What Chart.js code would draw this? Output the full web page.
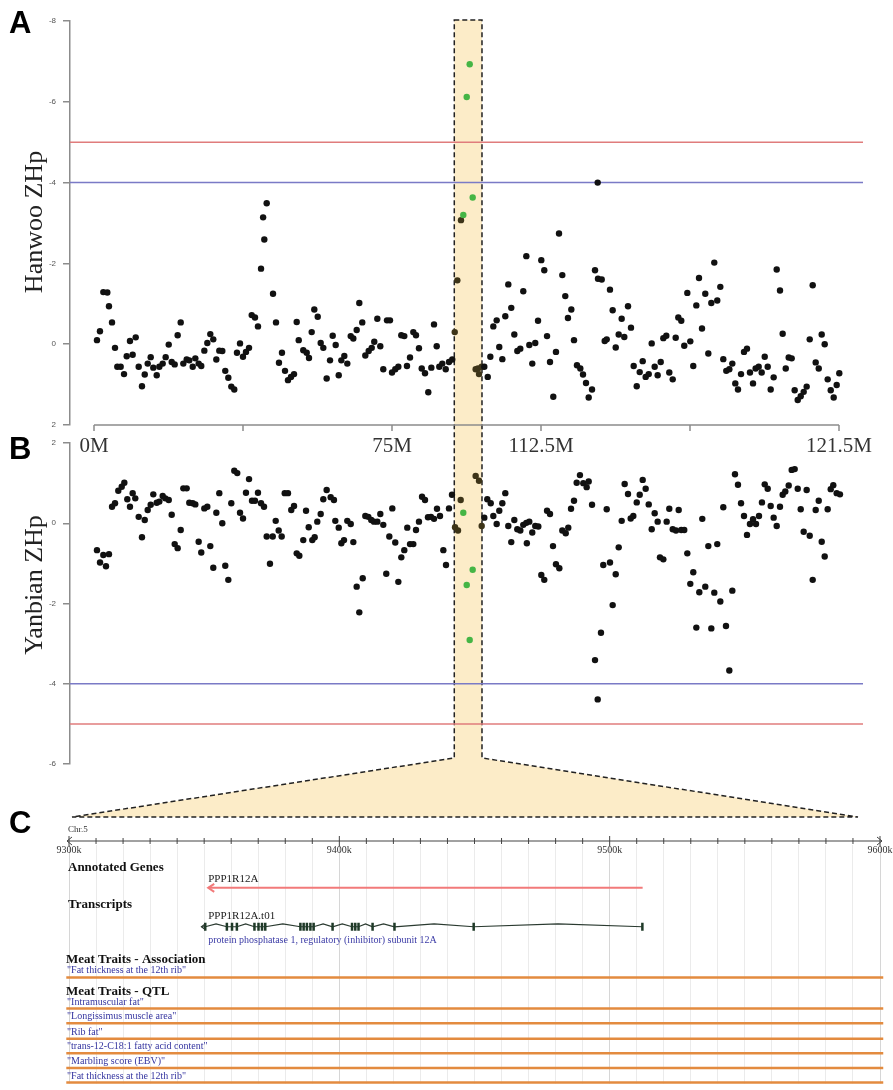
<!DOCTYPE html>
<html>
<head>
<meta charset="utf-8">
<script src="https://cdn.jsdelivr.net/npm/chart.js@4.4.1/dist/chart.umd.min.js"></script>
<style>
  html, body { margin: 0; padding: 0; background: #fff; }
  #wrap { position: relative; width: 893px; height: 1090px; overflow: hidden; }
  #wrap canvas { position: absolute; left: 0; top: 0; }
</style>
</head>
<body>
<div id="wrap">
  <canvas id="chartA" width="893" height="1090"></canvas>
  <canvas id="chartB" width="893" height="1090"></canvas>
  <canvas id="chartC" width="893" height="1090"></canvas>
</div>
<script>
// 1) Data

// genome axis: position as % of the axis length, tick labels as printed
const genomeTicks = [0, 20, 40, 60, 80, 100];
const genomeTickLabels = ["0M", "", "75M", "112.5M", "", "121.5M"];
const windowRange = [48.36, 52.08];   // highlighted region (shaded band)
const thresholds = [-4, -5];

// [position, ZHp]
const hanwooPoints = [
  [0.4,-0.1],[0.8,-0.32],[1.25,-1.29],[1.79,-1.28],[2.01,-0.94],[2.42,-0.54],[2.82,0.09],[3.13,0.56],[3.58,0.56],[4.03,0.74],
  [4.39,0.3],[4.83,-0.08],[5.19,0.26],[5.6,-0.17],[6.0,0.56],[6.44,1.04],[6.81,0.75],[7.21,0.48],[7.61,0.32],[7.96,0.58],
  [8.42,0.77],[8.77,0.56],[9.22,0.48],[9.62,0.32],[10.03,0.01],[10.43,0.44],[10.83,0.5],[11.23,-0.22],[11.64,-0.54],[11.99,0.48],
  [12.44,0.38],[12.79,0.4],[13.25,0.56],[13.6,0.35],[14.05,0.48],[14.4,0.54],[14.81,0.16],[15.21,-0.03],[15.61,-0.25],[16.01,-0.12],
  [16.42,0.38],[16.82,0.16],[17.22,0.17],[17.62,0.66],[18.03,0.83],[18.43,1.05],[18.83,1.12],[19.19,0.21],[19.6,-0.02],[20.0,0.31],
  [20.4,0.19],[20.81,0.09],[21.17,-0.72],[21.61,-0.66],[22.01,-0.44],[22.42,-1.87],[22.86,-2.59],[22.7,-3.14],[23.18,-3.49],[24.03,-1.25],
  [24.43,-0.54],[24.83,0.46],[25.23,0.21],[25.64,0.66],[26.04,0.89],[26.44,0.81],[26.85,0.74],[27.21,-0.55],[27.48,-0.1],[28.09,0.15],
  [28.55,0.21],[28.86,0.34],[29.22,-0.3],[29.57,-0.86],[30.03,-0.68],[30.43,-0.03],[30.78,0.09],[31.23,0.85],[31.68,0.4],[32.04,-0.21],
  [32.44,0.02],[32.85,0.77],[33.2,0.4],[33.6,0.29],[34.0,0.48],[34.46,-0.2],[34.81,-0.14],[35.26,-0.35],[35.61,-1.02],[36.01,-0.54],
  [36.42,0.28],[36.87,0.17],[37.28,0.09],[37.62,-0.06],[38.03,-0.63],[38.43,0.05],[38.83,0.62],[39.33,-0.59],[39.73,-0.59],[40.0,0.7],
  [40.44,0.62],[40.85,0.56],[41.25,-0.22],[41.65,-0.2],[42.01,0.54],[42.42,0.33],[42.86,-0.3],[43.22,-0.22],[43.62,0.1],[43.99,0.6],
  [44.43,0.72],[44.87,1.19],[45.28,0.58],[45.64,-0.49],[46.0,0.05],[46.35,0.56],[46.75,0.48],[47.21,0.62],[47.65,0.44],[48.09,0.38],
  [48.42,-0.3],[48.77,-1.58],[49.26,-3.07],[51.23,0.62],[51.68,0.74],[51.54,0.6],[52.04,0.56],[52.39,0.56],[52.85,0.81],[53.2,0.31],
  [53.6,-0.44],[54.05,-0.59],[54.4,0.07],[54.81,0.37],[55.21,-0.69],[55.61,-1.48],[56.01,-0.9],[56.42,-0.24],[56.82,0.17],[57.22,0.11],
  [57.62,-1.31],[58.03,-2.18],[58.43,0.02],[58.83,0.48],[59.23,-0.03],[59.6,-0.58],[60.04,-2.08],[60.44,-1.83],[60.81,-0.2],[61.21,0.44],
  [61.65,1.3],[62.01,0.19],[62.42,-2.74],[62.86,-1.71],[63.26,-1.19],[63.62,-0.65],[64.07,-0.86],[64.43,-0.1],[64.83,0.52],[65.28,0.6],
  [65.64,0.75],[66.04,0.96],[66.4,1.32],[66.85,1.12],[67.25,-1.83],[67.65,-1.62],[67.61,-4.0],[68.15,-1.6],[68.55,-0.08],[68.82,-0.12],
  [69.26,-1.35],[69.62,-0.84],[70.03,0.08],[70.43,-0.24],[70.83,-0.63],[71.18,-0.18],[71.68,-0.94],[72.08,-0.41],[72.44,0.54],[72.85,1.04],
  [73.25,0.69],[73.65,0.42],[74.05,0.81],[74.46,0.74],[74.86,-0.02],[75.26,0.56],[75.66,0.77],[76.07,0.44],[76.42,-0.15],[76.82,-0.21],
  [77.22,0.7],[77.68,0.87],[78.08,-0.16],[78.43,-0.66],[78.83,-0.58],[79.23,0.04],[79.64,-1.27],[80.04,-0.07],[80.44,0.54],[80.85,-0.96],
  [81.21,-1.64],[81.61,-0.39],[82.05,-1.25],[82.46,0.23],[82.86,-1.02],[83.26,-2.02],[83.66,-1.08],[84.07,-1.42],[84.47,0.37],[84.87,0.66],
  [85.28,0.62],[85.68,0.48],[86.08,0.97],[86.44,1.12],[86.85,0.74],[87.25,0.19],[87.65,0.11],[88.05,0.7],[88.46,0.97],[88.81,0.6],
  [89.22,0.56],[89.62,0.7],[90.03,0.31],[90.43,0.56],[90.83,1.12],[91.23,0.82],[91.64,-1.85],[92.08,-1.33],[92.44,-0.26],[92.85,0.6],
  [93.25,0.33],[93.65,0.35],[94.05,1.14],[94.46,1.38],[94.86,1.29],[95.26,1.18],[95.66,1.05],[96.07,-0.12],[96.47,-1.46],[96.87,0.45],
  [97.28,0.6],[97.68,-0.24],[98.08,0.0],[98.48,0.87],[98.89,1.14],[99.29,1.32],[99.69,1.01],[100.04,0.72]
];
const hanwooHits = [[49.57,-3.2],[50.03,-6.12],[50.43,-6.93],[50.83,-3.63]];

const yanbianPoints = [
  [0.4,-0.67],[0.81,-0.98],[1.25,-0.79],[1.61,-1.07],[2.01,-0.77],[2.42,0.41],[2.82,0.5],[3.26,0.81],[3.72,0.91],[4.07,1.01],
  [4.47,0.6],[4.83,0.41],[5.19,0.75],[5.54,0.62],[6.0,0.16],[6.44,-0.35],[6.81,0.08],[7.21,0.33],[7.61,0.46],[7.96,0.72],
  [8.42,0.51],[8.77,0.54],[9.22,0.68],[9.57,0.62],[10.03,0.58],[10.43,0.21],[10.83,-0.52],[11.23,-0.62],[11.64,-0.17],[11.99,0.87],
  [12.44,0.87],[12.79,0.51],[13.25,0.5],[13.6,0.47],[14.05,-0.46],[14.4,-0.73],[14.81,0.37],[15.21,0.41],[15.61,-0.57],[16.01,-1.11],
  [16.42,0.26],[16.82,0.75],[17.22,0.0],[17.62,-1.06],[18.03,-1.41],[18.43,0.5],[18.83,1.31],[19.23,1.25],[19.6,0.26],[20.0,0.12],
  [20.4,0.76],[20.81,1.1],[21.21,0.56],[21.61,0.56],[22.01,0.76],[22.42,0.5],[22.82,0.41],[23.18,-0.33],[23.62,-1.01],[23.99,-0.33],
  [24.39,0.06],[24.79,-0.18],[25.19,-0.33],[25.6,0.75],[26.04,0.75],[26.48,0.33],[26.85,0.43],[27.21,-0.75],[27.56,-0.81],[28.09,-0.42],
  [28.46,0.31],[28.82,-0.1],[29.3,-0.42],[29.62,-0.35],[29.97,0.04],[30.43,0.23],[30.78,0.6],[31.23,0.83],[31.77,0.65],[32.21,0.58],
  [32.39,0.06],[32.85,-0.11],[33.2,-0.5],[33.56,-0.42],[34.0,0.06],[34.46,-0.02],[34.81,-0.47],[35.26,-1.58],[35.61,-2.22],[36.07,-1.37],
  [36.42,0.18],[36.82,0.16],[37.22,0.08],[37.58,0.04],[38.03,0.04],[38.43,0.23],[38.83,-0.04],[39.23,-1.26],[39.64,-0.33],[40.04,0.37],
  [40.44,-0.48],[40.85,-1.46],[41.25,-0.85],[41.65,-0.67],[42.05,-0.11],[42.42,-0.52],[42.86,-0.52],[43.22,-0.17],[43.62,0.04],[44.03,0.66],
  [44.43,0.58],[44.83,0.15],[45.23,0.16],[45.64,0.11],[46.04,0.36],[46.44,0.18],[46.89,-0.67],[47.25,-1.04],[47.65,0.37],[48.05,0.71],
  [48.46,-0.1],[48.86,-0.18],[49.22,0.58],[51.23,1.18],[51.68,1.06],[52.04,-0.07],[52.39,0.14],[52.79,0.6],[53.25,0.5],[53.6,0.18],
  [54.05,-0.02],[54.4,0.31],[54.81,0.5],[55.21,0.75],[55.61,-0.07],[56.01,-0.47],[56.42,0.08],[56.82,-0.15],[57.22,-0.18],[57.62,-0.04],
  [58.03,0.01],[58.1,-0.5],[58.43,0.04],[58.83,-0.23],[59.23,-0.07],[59.64,-0.08],[60.04,-1.29],[60.44,-1.41],[60.81,0.31],[61.21,0.23],
  [61.61,-0.57],[62.01,-1.02],[62.46,-1.12],[62.86,-0.18],[63.32,-0.25],[63.66,-0.11],[64.03,0.36],[64.43,0.56],[64.79,1.01],[65.23,1.2],
  [65.68,1.0],[66.13,0.9],[66.4,1.04],[66.85,0.46],[67.25,-3.41],[67.61,-4.39],[68.05,-2.73],[68.36,-1.04],[68.82,0.35],[69.26,-0.98],
  [69.62,-2.04],[70.03,-1.27],[70.43,-0.6],[70.83,0.06],[71.23,0.98],[71.68,0.73],[72.04,0.12],[72.39,0.18],[72.85,0.52],[73.25,0.71],
  [73.65,1.08],[74.05,0.86],[74.46,0.47],[74.86,-0.15],[75.26,0.25],[75.66,0.04],[75.97,-0.85],[76.42,-0.9],[76.87,0.04],[77.22,0.36],
  [77.68,-0.15],[78.12,-0.18],[78.48,0.33],[78.83,-0.17],[79.23,-0.17],[79.64,-0.75],[80.04,-1.51],[80.44,-1.22],[80.85,-2.6],[81.25,-1.72],
  [81.65,0.11],[82.05,-1.58],[82.46,-0.57],[82.86,-2.62],[83.26,-1.73],[83.66,-0.52],[84.07,-1.95],[84.47,0.4],[84.83,-2.56],[85.28,-3.67],
  [85.68,-1.68],[86.04,1.22],[86.44,0.96],[86.85,0.5],[87.25,0.18],[87.65,-0.29],[88.05,-0.02],[88.46,0.1],[88.86,-0.02],[89.26,0.18],
  [89.66,0.52],[90.03,0.97],[90.43,0.86],[90.83,0.43],[91.23,0.14],[91.64,-0.07],[92.08,0.41],[92.44,0.71],[92.79,0.79],[93.25,0.94],
  [93.65,1.33],[94.05,1.35],[94.46,0.86],[94.86,0.35],[95.26,-0.21],[95.66,0.83],[96.07,-0.31],[96.47,-1.41],[96.87,0.33],[97.28,0.56],
  [97.68,-0.46],[98.08,-0.83],[98.48,0.35],[98.89,0.85],[99.23,0.95],[99.69,0.75],[100.13,0.72]
];
const yanbianHits = [[49.57,0.26],[50.03,-1.54],[50.43,-2.91],[50.83,-1.16]];

// panel C: genome browser, positions in kb
const regionKb = [9300, 9600];
const regionLabelsKb = [9300, 9400, 9500, 9600];
const chromosome = "Chr.5";
const geneName = "PPP1R12A";
const geneSpanKb = [9351.5, 9512.2];
const transcriptName = "PPP1R12A.t01";
const transcriptDesc = "protein phosphatase 1, regulatory (inhibitor) subunit 12A";
const transcriptStartKb = 9349;
const exonKb = [9350.4, 9358.4, 9360.3, 9362.1, 9368.6, 9370.1, 9371.4, 9372.6, 9385.6, 9386.8, 9388.0,
                9389.3, 9390.5, 9397.5, 9404.7, 9405.9, 9407.1, 9412.3, 9420.4, 9449.7, 9512.1];
const associationTraits = ['"Fat thickness at the 12th rib"'];
const qtlTraits = ['"Intramuscular fat"', '"Longissimus muscle area"', '"Rib fat"',
                   '"trans-12-C18:1 fatty acid content"', '"Marbling score (EBV)"', '"Fat thickness at the 12th rib"'];
const traitSpanKb = [9299, 9601.2];


// 2) Layout / style

const SANS = '"Liberation Sans", Arial, sans-serif';
const SERIF = '"Liberation Serif", "Times New Roman", serif';
const AXIS_GREY = "#8c8c8c";
const DOT = "#111111";
const DOT_IN_BAND = "#3d3418";
const HIT_GREEN = "#45b545";
const BAND_FILL = "#fcecc8";
const thresholdColors = { "-4": "#7a7ac6", "-5": "#e07c7c" };

// genome axis 0..100 runs from x=94 to x=839, chart area 70..863
const xMin = -24 / 7.45;
const xMax = 100 + 24 / 7.45;

// track rows in panel C (pixels below the top of the track area)
const trackY = { gene: 44, transcript: 84, association: [136], qtl: [168, 183, 199, 214, 229, 244] };

const toXY = (pairs) => pairs.map(([x, y]) => ({ x, y }));
const inBand = (c) => c.raw && c.raw.x >= windowRange[0] && c.raw.x <= windowRange[1];


// 3) Plugins

const bandPlugin = {
  id: "band",
  beforeDatasetsDraw(chart) {
    const { ctx, chartArea } = chart;
    const xs = chart.scales.x;
    const l = xs.getPixelForValue(windowRange[0]);
    const r = xs.getPixelForValue(windowRange[1]);
    const top = chartArea.top - 1;
    const neck = 758, foot = 817;
    const fl = chartArea.left + 2, fr = chartArea.right - 5;
    ctx.save();
    ctx.beginPath();
    ctx.moveTo(l, top);
    ctx.lineTo(r, top);
    ctx.lineTo(r, neck);
    ctx.lineTo(fr, foot);
    ctx.lineTo(fl, foot);
    ctx.lineTo(l, neck);
    ctx.closePath();
    ctx.fillStyle = BAND_FILL;
    ctx.fill();
    ctx.setLineDash([5, 3]);
    ctx.lineWidth = 1.5;
    ctx.strokeStyle = "#222";
    ctx.stroke();
    ctx.restore();
  }
};

const genomeAxisPlugin = {
  id: "genomeAxis",
  afterDraw(chart) {
    const { ctx, chartArea } = chart;
    const xs = chart.scales.x;
    const y = chartArea.bottom;
    ctx.save();
    ctx.strokeStyle = AXIS_GREY;
    ctx.lineWidth = 1.5;
    ctx.beginPath();
    ctx.moveTo(xs.getPixelForValue(genomeTicks[0]), y);
    ctx.lineTo(xs.getPixelForValue(genomeTicks[genomeTicks.length - 1]), y);
    genomeTicks.forEach((t) => {
      const x = xs.getPixelForValue(t);
      ctx.moveTo(x, y);
      ctx.lineTo(x, y + 6);
    });
    ctx.stroke();
    ctx.fillStyle = "#333";
    ctx.font = "21px " + SERIF;
    ctx.textAlign = "center";
    genomeTicks.forEach((t, i) => {
      ctx.fillText(genomeTickLabels[i], xs.getPixelForValue(t), y + 27);
    });
    ctx.restore();
  }
};

const panelTextPlugin = {
  id: "panelText",
  afterDraw(chart, args, opts) {
    const { ctx } = chart;
    ctx.save();
    ctx.fillStyle = "#000";
    ctx.font = "bold 31px " + SANS;
    ctx.textAlign = "left";
    ctx.fillText(opts.letter, 9, opts.letterY);
    if (opts.title) {
      ctx.translate(42, opts.titleY);
      ctx.rotate(-Math.PI / 2);
      ctx.font = "26px " + SERIF;
      ctx.textAlign = "center";
      ctx.fillStyle = "#222";
      ctx.fillText(opts.title, 0, 0);
    }
    ctx.restore();
  }
};


// 4) Panels A and B

function yAxis(min, max, reverse) {
  return {
    type: "linear",
    min: min,
    max: max,
    reverse: reverse,
    afterFit: (s) => { s.width = 40; },
    ticks: { stepSize: 2, color: "#555", padding: 7, font: { family: SANS, size: 8 } },
    grid: { drawOnChartArea: false, tickLength: 7, color: AXIS_GREY, lineWidth: 1.5 },
    border: { color: AXIS_GREY, width: 1.5 }
  };
}

function scatterPanel(canvasId, points, hits, yMin, yMax, reverse, top, bottom, letter, letterY, title, titleY, extraPlugins) {
  const datasets = [
    {
      data: toXY(hits),
      pointBackgroundColor: HIT_GREEN,
      pointBorderWidth: 0,
      pointRadius: 3.2,
      order: 0
    },
    {
      data: toXY(points),
      pointBackgroundColor: (c) => (inBand(c) ? DOT_IN_BAND : DOT),
      pointBorderWidth: 0,
      pointRadius: 3.2,
      order: 1
    }
  ];
  thresholds.forEach((t) => {
    datasets.push({
      data: [{ x: xMin, y: t }, { x: xMax, y: t }],
      showLine: true,
      borderColor: thresholdColors[String(t)],
      borderWidth: 1.5,
      pointRadius: 0,
      order: 2
    });
  });

  return new Chart(document.getElementById(canvasId), {
    type: "scatter",
    data: { datasets: datasets },
    options: {
      responsive: false,
      devicePixelRatio: 1,
      animation: false,
      events: [],
      layout: { padding: { left: 30, right: 30, top: top, bottom: 1090 - bottom } },
      plugins: {
        legend: { display: false },
        tooltip: { enabled: false },
        panelText: { letter: letter, letterY: letterY, title: title, titleY: titleY }
      },
      scales: {
        x: { type: "linear", display: false, min: xMin, max: xMax },
        y: yAxis(yMin, yMax, reverse)
      }
    },
    plugins: [panelTextPlugin].concat(extraPlugins)
  });
}

scatterPanel("chartA", hanwooPoints, hanwooHits, -8, 2, true, 21, 425,
  "A", 33, "Hanwoo ZHp", 222, [bandPlugin, genomeAxisPlugin]);

scatterPanel("chartB", yanbianPoints, yanbianHits, -6, 2, false, 443, 764,
  "B", 459, "Yanbian ZHp", 585, []);


// 5) Panel C: genome browser tracks

const gridKb = [];
for (let k = regionKb[0]; k <= regionKb[1]; k += 10) gridKb.push(k);

const transcriptPts = [{ x: transcriptStartKb, y: trackY.transcript, exon: false }];
exonKb.forEach((k, i) => {
  if (i > 0 && k - exonKb[i - 1] > 3) {
    transcriptPts.push({ x: (k + exonKb[i - 1]) / 2, y: trackY.transcript - 3, exon: false });
  }
  transcriptPts.push({ x: k, y: trackY.transcript, exon: true });
});

const traitRows = associationTraits.map((t, i) => trackY.association[i])
  .concat(qtlTraits.map((t, i) => trackY.qtl[i]));

const trackDatasets = [
  {
    data: [{ x: geneSpanKb[0], y: trackY.gene }, { x: geneSpanKb[1], y: trackY.gene }],
    showLine: true, borderColor: "#f27a7a", borderWidth: 2, pointRadius: 0
  },
  {
    data: transcriptPts,
    showLine: true, borderColor: "#2a3a30", borderWidth: 1.2,
    pointStyle: "line", pointRotation: 90,
    pointRadius: (c) => (c.raw && c.raw.exon ? 4 : 0),
    pointBorderColor: "#1f3a28", pointBorderWidth: 2.5
  }
];
traitRows.forEach((row) => {
  trackDatasets.push({
    data: [{ x: traitSpanKb[0], y: row }, { x: traitSpanKb[1], y: row }],
    showLine: true, borderColor: "#e38b3f", borderWidth: 2.5, pointRadius: 0, clip: 4
  });
});

const trackTextPlugin = {
  id: "trackText",
  afterDraw(chart) {
    const { ctx } = chart;
    const xs = chart.scales.x, ys = chart.scales.y;
    const px = (v) => xs.getPixelForValue(v);
    const py = (v) => ys.getPixelForValue(v);
    ctx.save();

    // panel letter
    ctx.fillStyle = "#000";
    ctx.font = "bold 31px " + SANS;
    ctx.fillText("C", 9, 833);

    // ruler
    const ry = 841;
    const x0 = px(regionKb[0]), x1 = px(regionKb[1]);
    ctx.strokeStyle = "#444";
    ctx.lineWidth = 1;
    ctx.beginPath();
    ctx.moveTo(x0 - 2, ry);
    ctx.lineTo(x1 + 2, ry);
    gridKb.forEach((k) => {
      const x = px(k);
      const h = k % 100 === 0 ? 5 : 3;
      ctx.moveTo(x, ry - h);
      ctx.lineTo(x, ry + h);
    });
    ctx.moveTo(x0 + 3, ry - 4); ctx.lineTo(x0 - 2, ry); ctx.lineTo(x0 + 3, ry + 4);
    ctx.moveTo(x1 - 3, ry - 4); ctx.lineTo(x1 + 2, ry); ctx.lineTo(x1 - 3, ry + 4);
    ctx.stroke();

    ctx.fillStyle = "#333";
    ctx.font = "10px " + SERIF;
    ctx.textAlign = "center";
    regionLabelsKb.forEach((k) => ctx.fillText(k + "k", px(k), ry + 12));
    ctx.textAlign = "left";
    ctx.font = "9px " + SERIF;
    ctx.fillText(chromosome, x0 - 1, ry - 9);

    // gene and transcript arrowheads (minus strand)
    const gx = px(geneSpanKb[0]), gy = py(trackY.gene);
    ctx.strokeStyle = "#f27a7a";
    ctx.lineWidth = 2;
    ctx.beginPath();
    ctx.moveTo(gx + 6, gy - 4); ctx.lineTo(gx, gy); ctx.lineTo(gx + 6, gy + 4);
    ctx.stroke();
    const tx = px(transcriptStartKb), ty = py(trackY.transcript);
    ctx.strokeStyle = "#2a3a30";
    ctx.lineWidth = 1.2;
    ctx.beginPath();
    ctx.moveTo(tx + 4, ty - 3); ctx.lineTo(tx, ty); ctx.lineTo(tx + 4, ty + 3);
    ctx.stroke();

    // headings
    const left = chart.chartArea.left - 1;
    ctx.fillStyle = "#111";
    ctx.font = "bold 13px " + SERIF;
    ctx.fillText("Annotated Genes", left, gy - 17);
    ctx.fillText("Transcripts", left, ty - 19);
    ctx.fillText("Meat Traits - Association", left - 2, py(trackY.association[0]) - 14);
    ctx.fillText("Meat Traits - QTL", left - 2, py(trackY.qtl[0]) - 14);

    // gene / transcript labels
    ctx.fillStyle = "#222";
    ctx.font = "11px " + SERIF;
    ctx.fillText(geneName, gx, gy - 6);
    ctx.fillText(transcriptName, gx, ty - 8);
    ctx.fillStyle = "#3b3ba6";
    ctx.font = "10px " + SERIF;
    ctx.fillText(transcriptDesc, gx, ty + 16);

    // trait labels
    ctx.fillStyle = "#3535a0";
    associationTraits.concat(qtlTraits).forEach((name, i) => {
      ctx.fillText(name, left - 1, py(traitRows[i]) - 4);
    });

    ctx.restore();
  }
};

new Chart(document.getElementById("chartC"), {
  type: "scatter",
  data: { datasets: trackDatasets },
  options: {
    responsive: false,
    devicePixelRatio: 1,
    animation: false,
    events: [],
    layout: { padding: { left: 69, right: 13, top: 845, bottom: 0 } },
    plugins: { legend: { display: false }, tooltip: { enabled: false } },
    scales: {
      x: {
        type: "linear",
        position: "top",
        min: regionKb[0],
        max: regionKb[1],
        afterFit: (s) => { s.height = 0; },
        afterBuildTicks: (s) => { s.ticks = gridKb.map((v) => ({ value: v })); },
        ticks: { display: false },
        grid: {
          drawTicks: false,
          lineWidth: 1,
          color: (c) => (c.tick && c.tick.value % 100 === 0 ? "#d6d6d6" : "#ebebeb")
        },
        border: { display: false }
      },
      y: { display: false, min: 0, max: 245, reverse: true }
    }
  },
  plugins: [trackTextPlugin]
});
</script>
</body>
</html>
